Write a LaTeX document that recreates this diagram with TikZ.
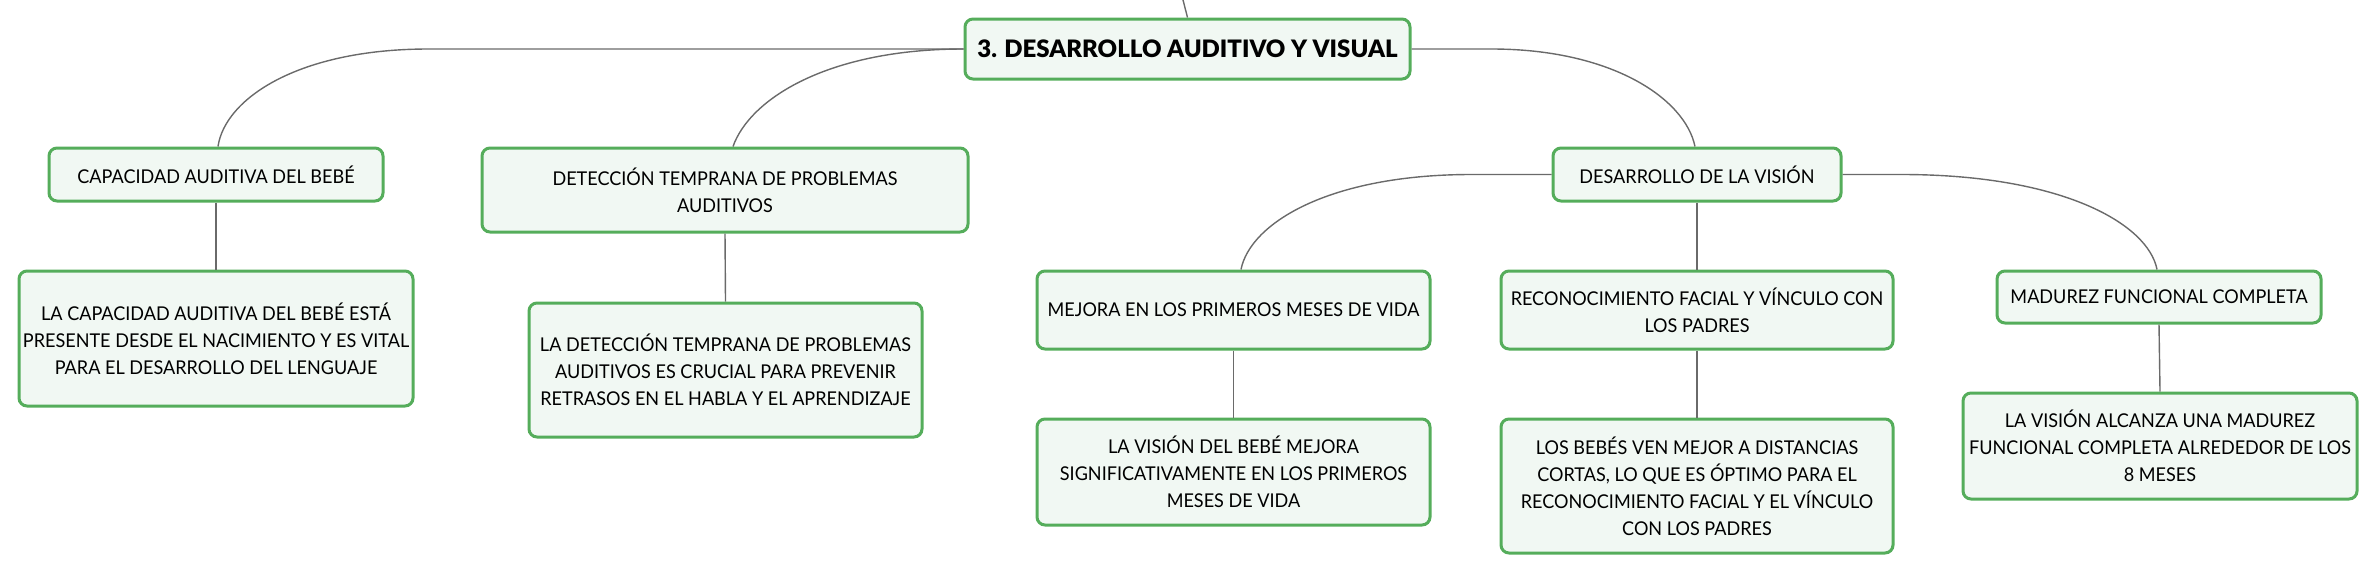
\documentclass[tikz,border=0pt]{standalone}
\usepackage{fontspec}
\setmainfont{Lato}
\newfontfamily\bodyfont[FakeStretch=0.95]{Lato}
\newfontfamily\titlefont{Lato Black}
\definecolor{boxgreen}{HTML}{55AD5B}
\definecolor{boxfill}{HTML}{F1F8F3}
\definecolor{linkgray}{HTML}{6A6A6A}
\begin{document}
\begin{tikzpicture}[x=1pt,y=-1pt,
  box/.style={draw=boxgreen, line width=3pt, fill=boxfill, rounded corners=8pt,
    align=center, inner sep=0pt, text=black, font=\bodyfont\fontsize{19}{27}\selectfont},
  titlebox/.style={box, font=\titlefont\fontsize{24}{28}\selectfont},
  link/.style={draw=linkgray, line width=1.4pt}]
\useasboundingbox (0,0) rectangle (2376,574);
% nodes
\node[titlebox, minimum width=445pt, minimum height=60pt] (main) at (1187.5,49) {3. DESARROLLO AUDITIVO Y VISUAL};
\node[box, minimum width=334pt, minimum height=53pt] (cap) at (216,174.5) {CAPACIDAD AUDITIVA DEL BEBÉ};
\node[box, minimum width=394pt, minimum height=135pt] (capC) at (216,338.5) {LA CAPACIDAD AUDITIVA DEL BEBÉ ESTÁ\\PRESENTE DESDE EL NACIMIENTO Y ES VITAL\\PARA EL DESARROLLO DEL LENGUAJE};
\node[box, minimum width=486pt, minimum height=84pt] (det) at (725,190) {DETECCIÓN TEMPRANA DE PROBLEMAS\\AUDITIVOS};
\node[box, minimum width=393pt, minimum height=134pt] (detC) at (725.5,370) {LA DETECCIÓN TEMPRANA DE PROBLEMAS\\AUDITIVOS ES CRUCIAL PARA PREVENIR\\RETRASOS EN EL HABLA Y EL APRENDIZAJE};
\node[box, minimum width=288pt, minimum height=53pt] (vis) at (1697,174.5) {DESARROLLO DE LA VISIÓN};
\node[box, minimum width=393pt, minimum height=78pt] (mej) at (1233.5,310) {MEJORA EN LOS PRIMEROS MESES DE VIDA};
\node[box, minimum width=393pt, minimum height=106pt] (mejC) at (1233.5,472) {LA VISIÓN DEL BEBÉ MEJORA\\SIGNIFICATIVAMENTE EN LOS PRIMEROS\\MESES DE VIDA};
\node[box, minimum width=392pt, minimum height=78pt] (rec) at (1697,310) {RECONOCIMIENTO FACIAL Y VÍNCULO CON\\LOS PADRES};
\node[box, minimum width=392pt, minimum height=134pt] (recC) at (1697,486) {LOS BEBÉS VEN MEJOR A DISTANCIAS\\CORTAS, LO QUE ES ÓPTIMO PARA EL\\RECONOCIMIENTO FACIAL Y EL VÍNCULO\\CON LOS PADRES};
\node[box, minimum width=324pt, minimum height=52pt] (mad) at (2159,297) {MADUREZ FUNCIONAL COMPLETA};
\node[box, minimum width=394pt, minimum height=106pt] (madC) at (2160,446) {LA VISIÓN ALCANZA UNA MADUREZ\\FUNCIONAL COMPLETA ALREDEDOR DE LOS\\8 MESES};
\coordinate (up) at (1183,0);
% connectors
\draw[link] (up) -- (main.north);
\draw[link] (main.west) -- ++(-535,0) .. controls +(-130,0) and +(7,-48) .. ([xshift=2pt]cap.north);
\draw[link] (main.west) .. controls +(-135,0) and +(17,-48) .. ([xshift=8pt]det.north);
\draw[link] (main.east) -- ++(80,0) .. controls +(120,0) and +(-10,-48) .. ([xshift=-2pt]vis.north);
\draw[link] (vis.west) -- ++(-80,0) .. controls +(-143,0) and +(9,-46) .. ([xshift=7.5pt]mej.north);
\draw[link] (vis.east) -- ++(59,0) .. controls +(160,0) and +(-9,-46) .. ([xshift=-2pt]mad.north);
\draw[link] (cap.south) -- (capC.north);
\draw[link] (det.south) -- (detC.north);
\draw[link] (vis.south) -- (rec.north);
\draw[link] (mej.south) -- (mejC.north);
\draw[link] (rec.south) -- (recC.north);
\draw[link] (mad.south) -- (madC.north);
\end{tikzpicture}
\end{document}
